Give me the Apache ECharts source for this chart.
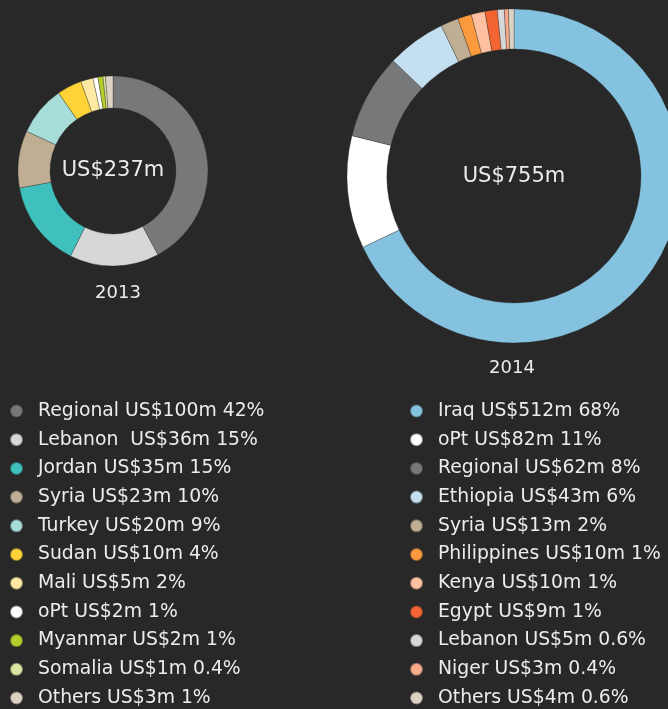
<!DOCTYPE html>
<html>
<head>
<meta charset="utf-8">
<style>
  html, body { margin: 0; padding: 0; background: #282828; }
  #chart { width: 668px; height: 709px; }
</style>
<script src="https://cdn.jsdelivr.net/npm/echarts@6/dist/echarts.min.js"></script>
</head>
<body>
<div id="chart"></div>
<script>
// 2013 数据
const countries2013 = ['Regional', 'Lebanon ', 'Jordan', 'Syria', 'Turkey', 'Sudan', 'Mali', 'oPt', 'Myanmar', 'Somalia', 'Others'];
const values2013 = [100, 36, 35, 23, 20, 10, 5, 2, 2, 1, 3];
const shares2013 = ['42%', '15%', '15%', '10%', '9%', '4%', '2%', '1%', '1%', '0.4%', '1%'];
const colors2013 = ['#77787a', '#d6d7d9', '#3fc0bc', '#bfae93', '#a6ddd8', '#fdd337', '#fde9a2', '#ffffff', '#b7cd2b', '#dce8a2', '#ddd3c3'];
const total2013 = 'US$237m';

// 2014 数据
const countries2014 = ['Iraq', 'oPt', 'Regional', 'Ethiopia', 'Syria', 'Philippines', 'Kenya', 'Egypt', 'Lebanon', 'Niger', 'Others'];
const values2014 = [512, 82, 62, 43, 13, 10, 10, 9, 5, 3, 4];
const shares2014 = ['68%', '11%', '8%', '6%', '2%', '1%', '1%', '1%', '0.6%', '0.4%', '0.6%'];
const colors2014 = ['#85c2e0', '#ffffff', '#77787a', '#c3dff0', '#bfae93', '#fb9a3c', '#fdc1a2', '#f26532', '#d6d7d9', '#f8aa8b', '#ddd3c3'];
const total2014 = 'US$755m';

const FONT = '"DejaVu Sans", Roboto, sans-serif';
const TEXT_COLOR = '#ececec';

// 图例文字作为数据名，保证两个饼图之间不重名
function buildData(countries, values, shares, colors) {
  return countries.map((c, i) => ({
    name: c + ' US$' + values[i] + 'm ' + shares[i],
    value: values[i],
    itemStyle: { color: colors[i] }
  }));
}

const data2013 = buildData(countries2013, values2013, shares2013, colors2013);
const data2014 = buildData(countries2014, values2014, shares2014, colors2014);

function legendFor(data, left) {
  return {
    orient: 'vertical',
    left: left,
    top: 401,
    padding: 0,
    icon: 'circle',
    itemWidth: 13,
    itemHeight: 13,
    itemGap: 8.7,
    selectedMode: false,
    data: data.map(d => d.name),
    textStyle: { color: TEXT_COLOR, fontSize: 18.8, fontFamily: FONT, lineHeight: 20, padding: [0, 0, 0, 10] }
  };
}

const chart = echarts.init(document.getElementById('chart'));

chart.setOption({
  backgroundColor: '#282828',
  animation: false,
  legend: [legendFor(data2013, 9), legendFor(data2014, 409)],
  graphic: [
    { type: 'text', x: 113, y: 171, style: { text: total2013, fill: TEXT_COLOR, font: '21px ' + FONT, textAlign: 'center', textVerticalAlign: 'middle' } },
    { type: 'text', x: 514, y: 177, style: { text: total2014, fill: TEXT_COLOR, font: '21px ' + FONT, textAlign: 'center', textVerticalAlign: 'middle' } },
    { type: 'text', x: 118, y: 293, style: { text: '2013', fill: TEXT_COLOR, font: '18px ' + FONT, textAlign: 'center', textVerticalAlign: 'middle' } },
    { type: 'text', x: 512, y: 368, style: { text: '2014', fill: TEXT_COLOR, font: '18px ' + FONT, textAlign: 'center', textVerticalAlign: 'middle' } }
  ],
  series: [
    {
      name: '2013',
      type: 'pie',
      center: [113, 171],
      radius: [63, 95],
      startAngle: 90,
      clockwise: true,
      label: { show: false },
      labelLine: { show: false },
      emphasis: { disabled: true },
      itemStyle: { borderColor: 'rgba(40,40,40,0.5)', borderWidth: 0.6 },
      data: data2013
    },
    {
      name: '2014',
      type: 'pie',
      center: [514, 176],
      radius: [127, 167],
      startAngle: 90,
      clockwise: true,
      label: { show: false },
      labelLine: { show: false },
      emphasis: { disabled: true },
      itemStyle: { borderColor: 'rgba(40,40,40,0.5)', borderWidth: 0.6 },
      data: data2014
    }
  ]
});
</script>
</body>
</html>
